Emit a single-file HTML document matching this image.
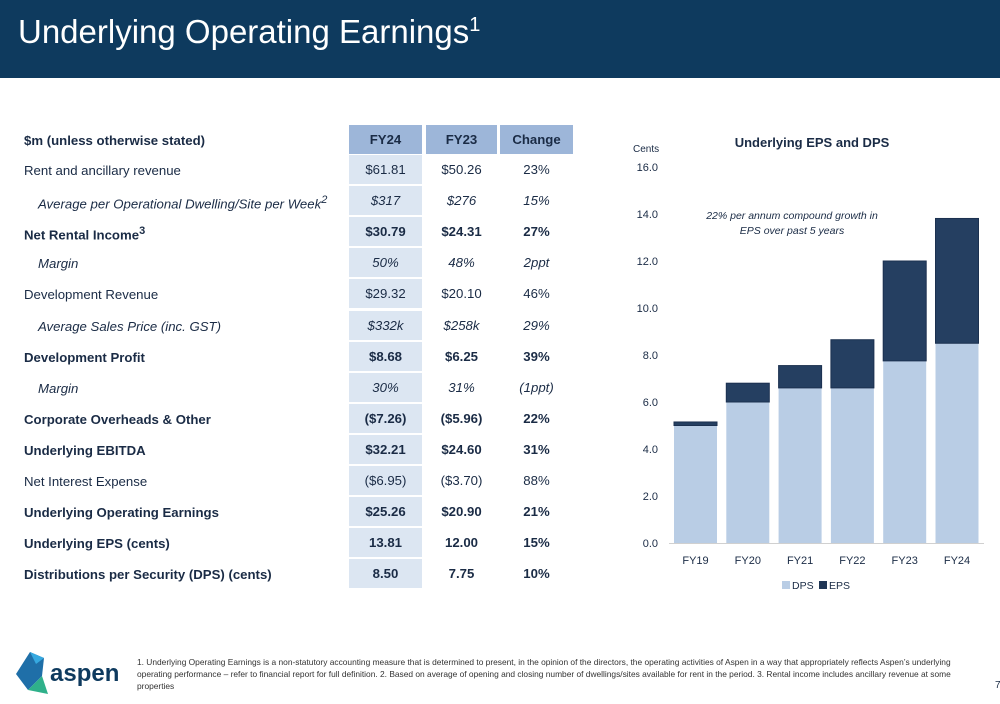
<!DOCTYPE html>
<html><head><meta charset="utf-8"><style>
body{margin:0;width:1000px;height:704px;background:#fff;font-family:"Liberation Sans",sans-serif;position:relative;overflow:hidden;color:#1a2b45}
#hdr{position:absolute;left:0;top:0;width:1000px;height:78px;background:#0e3a5e}
#hdr h1{margin:0;position:absolute;left:18px;top:13px;font-weight:normal;font-size:33px;color:#fff}
#hdr sup{font-size:20px}
.row{position:absolute;left:24px;width:550px;height:31px;font-size:13.2px}
.lab{position:absolute;left:0;top:8px}
.c{position:absolute;top:0;height:29px;line-height:29px;text-align:center}
.c1{left:325px;width:73px;background:#dce6f2}
.c2{left:402px;width:71px}
.c3{left:476px;width:73px}
.b{font-weight:bold}.i{font-style:italic}
.hd .c{background:#9db6d9;font-weight:bold}
#foot{position:absolute;left:137px;top:656px;font-size:8.4px;line-height:12px;width:840px;color:#333}
</style></head><body>
<div id="hdr"><h1>Underlying Operating Earnings<sup>1</sup></h1></div>
<div id="table"></div>
<svg id="chart" width="1000" height="704" style="position:absolute;left:0;top:0"></svg>
<svg style="position:absolute;left:12px;top:650px" width="120" height="46">
<polygon points="18,2 32,8 30,26 16,40 4,24" fill="#1f6fa8"/><polygon points="30,26 16,40 36,44" fill="#2fb08a"/><polygon points="18,2 32,8 24,14" fill="#36a9e0"/>
<text x="38" y="31" font-size="24" font-weight="bold" fill="#0e3a5e" font-family="Liberation Sans">aspen</text></svg>
<div id="foot">1. Underlying Operating Earnings is a non-statutory accounting measure that is determined to present, in the opinion of the directors, the operating activities of Aspen in a way that appropriately reflects Aspen’s underlying operating performance – refer to financial report for full definition. 2. Based on average of opening and closing number of dwellings/sites available for rent in the period. 3. Rental income includes ancillary revenue at some properties</div>
<div style="position:absolute;left:995px;top:680px;font-size:10px">7</div>
<script>
const rows=[
["$m (unless otherwise stated)","FY24","FY23","Change","hd"],
["Rent and ancillary revenue","$61.81","$50.26","23%",""],
["Average per Operational Dwelling/Site per Week<sup>2</sup>","$317","$276","15%","i"],
["Net Rental Income<sup>3</sup>","$30.79","$24.31","27%","b"],
["Margin","50%","48%","2ppt","i"],
["Development Revenue","$29.32","$20.10","46%",""],
["Average Sales Price (inc. GST)","$332k","$258k","29%","i"],
["Development Profit","$8.68","$6.25","39%","b"],
["Margin","30%","31%","(1ppt)","i"],
["Corporate Overheads &amp; Other","($7.26)","($5.96)","22%","b"],
["Underlying EBITDA","$32.21","$24.60","31%","b"],
["Net Interest Expense","($6.95)","($3.70)","88%",""],
["Underlying Operating Earnings","$25.26","$20.90","21%","b"],
["Underlying EPS (cents)","13.81","12.00","15%","b"],
["Distributions per Security (DPS) (cents)","8.50","7.75","10%","b"]];
const t=document.getElementById('table');
rows.forEach((r,k)=>{
 const d=document.createElement('div');
 
 
 const top=k==0?125:155+(k-1)*31.1;
 d.className='row '+(r[4]=='hd'?'hd b':r[4]);
 d.style.top=top+'px';
 const ind=r[4]=='i'?'padding-left:14px;':'';
 d.innerHTML='<div class="lab" style="'+ind+'">'+r[0]+'</div><div class="c c1">'+r[1]+'</div><div class="c c2">'+r[2]+'</div><div class="c c3">'+r[3]+'</div>';
 t.appendChild(d);
});
</script>
<script>
const categories=["FY19","FY20","FY21","FY22","FY23","FY24"];
const dps=[5.0,6.0,6.6,6.6,7.75,8.5];
const epsTotal=[5.15,6.8,7.55,8.65,12.0,13.81];
const ticks=[0,2,4,6,8,10,12,14,16];
const ns='http://www.w3.org/2000/svg';
const svg=document.getElementById('chart');
const y=v=>543-v*23.5;
const x=i=>674+i*52.3;
const bw=43;
function el(tag,attrs,txt){const e=document.createElementNS(ns,tag);for(const k in attrs)e.setAttribute(k,attrs[k]);if(txt!=null)e.textContent=txt;svg.appendChild(e);return e;}
ticks.forEach(v=>{const e=el('text',{x:658,y:y(v)+4,'text-anchor':'end','font-size':11,fill:'#1a2b45'},v.toFixed(1));

});
categories.forEach((c,i)=>{
 const a=el('rect',{x:x(i),y:y(dps[i]),width:bw,height:y(0)-y(dps[i]),fill:'#b9cde5'});
 
 
 const b=el('rect',{x:x(i),y:y(epsTotal[i]),width:bw,height:y(dps[i])-y(epsTotal[i]),fill:'#253f61',stroke:'#1c3150','stroke-width':1});
 
 
 const l=el('text',{x:x(i)+bw/2,y:564,'text-anchor':'middle','font-size':11,fill:'#1a2b45'},c);
 
 
});
const ax=el('line',{x1:669,x2:984,y1:543.5,y2:543.5,stroke:'#d0d0d0'});


const tt=el('text',{x:812,y:147,'text-anchor':'middle','font-size':13,'font-weight':'bold',fill:'#1a2b45'},'Underlying EPS and DPS');


const yt=el('text',{x:633,y:152,'font-size':10,fill:'#1a2b45'},'Cents');


const n1=el('text',{x:792,y:219,'text-anchor':'middle','font-size':10.5,'font-style':'italic',fill:'#1a2b45'},'22% per annum compound growth in');


const n2=el('text',{x:792,y:234,'text-anchor':'middle','font-size':10.5,'font-style':'italic',fill:'#1a2b45'},'EPS over past 5 years');


const g1=el('rect',{x:782,y:581,width:8,height:8,fill:'#b9cde5'});


const g2=el('text',{x:792,y:589,'font-size':10.5,fill:'#1a2b45'},'DPS');


const g3=el('rect',{x:819,y:581,width:8,height:8,fill:'#1f3655'});


const g4=el('text',{x:829,y:589,'font-size':10.5,fill:'#1a2b45'},'EPS');


</script>
</body></html>
